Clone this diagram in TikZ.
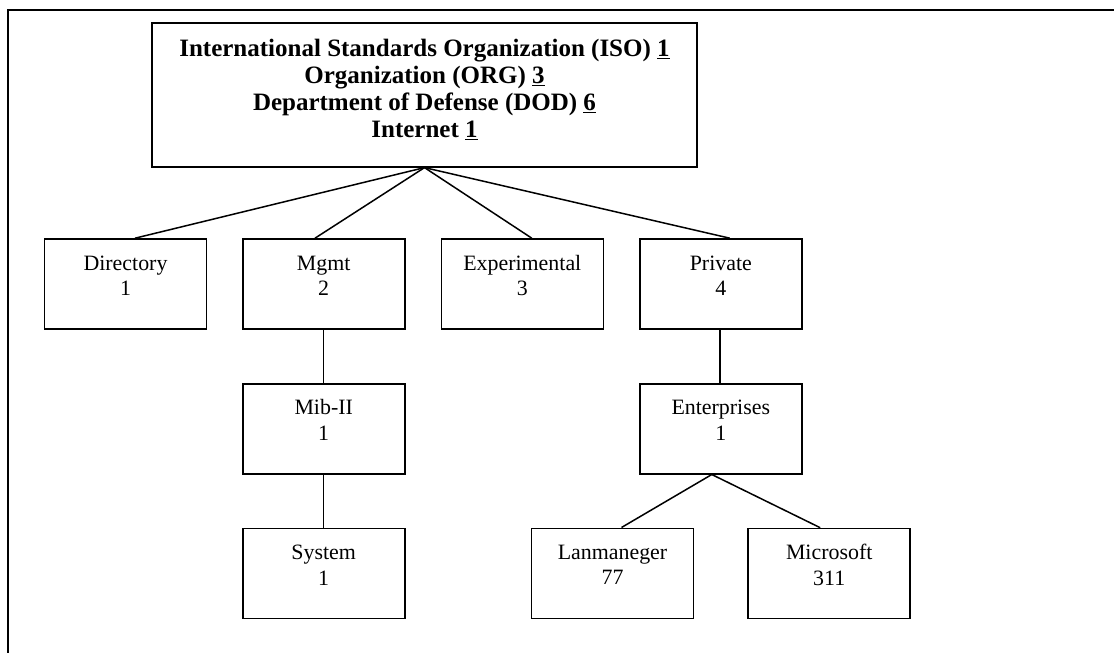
\documentclass[tikz,border=0pt]{standalone}
\usepackage{fontspec}
\setmainfont{Liberation Serif}

% label of a small box: two centred lines, set near the top
\newcommand\leaftext[2]{\parbox[c][90pt][t]{158pt}{\centering\rule{0pt}{31pt}#1\\#2}}

\tikzset{
  frame/.style={draw, line width=2.4pt},
  rootbox/.style={draw, line width=1.8pt, rectangle, inner sep=0pt,
    minimum width=545pt, minimum height=144pt, align=center,
    font=\fontsize{25}{27}\selectfont\bfseries},
  leaf/.style={draw, line width=1.6pt, rectangle, inner sep=0pt,
    minimum width=162pt, minimum height=90pt,
    font=\fontsize{21.9}{25.6}\selectfont},
  link/.style={draw, line width=1.5pt},
}

\begin{document}
\begin{tikzpicture}[x=1pt, y=-1pt]
\useasboundingbox (0,0) rectangle (1114,653);
\clip (0,0) rectangle (1114,653);

% outer frame (continues past the right and lower edges)
\draw[frame] (8,9.7) rectangle (1200,720);

% root of the tree
\node[rootbox] (root) at (424.5,94.7)
  {International Standards Organization (ISO) \underline{1}\\
   Organization (ORG) \underline{3}\\
   Department of Defense (DOD) \underline{6}\\
   Internet \underline{1}\rule[-12pt]{0pt}{12pt}};

% first level
\node[leaf] (dir)  at (125.5,284)   {\leaftext{Directory}{1}};
\node[leaf] (mgmt) at (323.7,284)   {\leaftext{Mgmt}{2}};
\node[leaf] (exp)  at (522.3,284)   {\leaftext{Experimental}{3}};
\node[leaf] (priv) at (720.8,284)   {\leaftext{Private}{4}};

% second level
\node[leaf] (mib)  at (323.7,428.7) {\leaftext{Mib-II}{1}};
\node[leaf] (ent)  at (720.8,428.7) {\leaftext{Enterprises}{1}};

% third level
\node[leaf] (sys)  at (323.7,573.5) {\leaftext{System}{1}};
\node[leaf] (lan)  at (612.5,573.3) {\leaftext{Lanmaneger}{77}};
\node[leaf] (ms)   at (829.2,573.5) {\leaftext{Microsoft}{311}};

% connectors
\draw[link] (root.south) -- ([xshift=9.5pt]dir.north);
\draw[link] (root.south) -- ([xshift=-8.7pt]mgmt.north);
\draw[link] (root.south) -- ([xshift=9.5pt]exp.north);
\draw[link] (root.south) -- ([xshift=9pt]priv.north);
\draw[link] (mgmt.south) -- (mib.north);
\draw[link] (mib.south) -- (sys.north);
\draw[link] ([xshift=-1pt]priv.south) -- ([xshift=-1pt]ent.north);
\coordinate (entfork) at ([xshift=-9pt]ent.south);
\draw[link] (entfork) -- ([xshift=9pt]lan.north);
\draw[link] (entfork) -- ([xshift=-9pt]ms.north);
\end{tikzpicture}
\end{document}
